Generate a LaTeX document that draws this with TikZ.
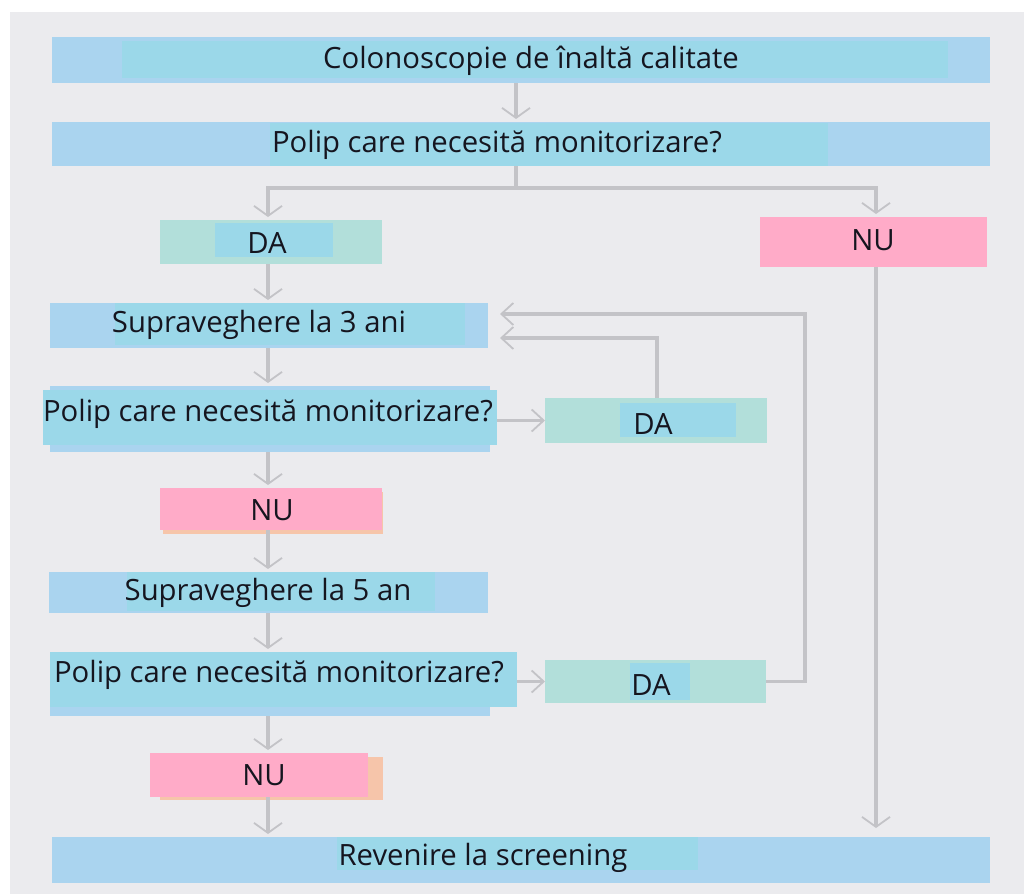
\documentclass[tikz,border=0pt]{standalone}
\usepackage{fontspec}
\setmainfont{Open Sans}
\usetikzlibrary{arrows.meta,calc}
\definecolor{bgg}{HTML}{EBEBEE}
\definecolor{lb}{HTML}{AAD4EF}
\definecolor{cy}{HTML}{9BD8E9}
\definecolor{gr}{HTML}{B2DFDA}
\definecolor{pk}{HTML}{FFABC8}
\definecolor{sh}{HTML}{F6C5AA}
\definecolor{ln}{HTML}{C3C3C7}
\definecolor{tx}{HTML}{15151F}
\begin{document}
\begin{tikzpicture}[x=1pt,y=-1pt,
  frame/.style={draw=none,inner sep=0pt,outer sep=0pt,rectangle},
  lbl/.style={inner sep=0pt,font=\fontsize{29.3}{34}\selectfont,text=tx},
  conn/.style={draw=ln,line width=4pt},
  arr/.style={conn,-{Straight Barb[length=10pt,width=28pt,line width=1.8pt]},shorten >=3pt},
  arrs/.style={draw=ln,line width=3.5pt,-{Straight Barb[length=12pt,width=22pt,line width=1.8pt]}}]
\useasboundingbox (0,0) rectangle (1024,894);
\fill[white] (0,0) rectangle (1024,894);
\fill[bgg] (10,12) rectangle (1024,894);

% ---- box fills ----
% b1
\fill[lb] (52,37) rectangle (990,83);
\fill[cy] (122,41) rectangle (948,78);
% b2
\fill[lb] (52,122) rectangle (990,166);
\fill[cy] (270,123) rectangle (828,166);
% da1
\fill[gr] (160,220) rectangle (382,264);
\fill[cy] (215,223) rectangle (333,257);
% nu1
\fill[pk] (760,217) rectangle (987,267);
% s3
\fill[lb] (50,303) rectangle (488,348);
\fill[cy] (115,303) rectangle (465,345);
% p2
\fill[lb] (50,386) rectangle (490,452);
\fill[cy] (43,390) rectangle (497,445);
% da2
\fill[gr] (545,398) rectangle (767,443);
\fill[cy] (620,403) rectangle (736,437);
% nu2
\fill[sh] (163,492) rectangle (383,534);
\fill[pk] (160,488) rectangle (382,530);
% s5
\fill[lb] (49,572) rectangle (488,613);
\fill[cy] (127,572) rectangle (435,611);
% p3
\fill[lb] (50,652) rectangle (490,716);
\fill[cy] (50,652) rectangle (517,707);
% da3
\fill[gr] (545,660) rectangle (766,703);
\fill[cy] (630,663) rectangle (690,700);
% nu3
\fill[sh] (160,757) rectangle (383,800);
\fill[pk] (150,753) rectangle (368,797);
% b9
\fill[lb] (52,837) rectangle (990,883);
\fill[cy] (337,837) rectangle (698,870);

% ---- frames ----
\node[frame,minimum width=938pt,minimum height=46pt] (b1) at (521,60) {};
\node[frame,minimum width=938pt,minimum height=44pt] (b2) at (521,144) {};
\node[frame,minimum width=222pt,minimum height=44pt] (da1) at (271,242) {};
\node[frame,minimum width=227pt,minimum height=50pt] (nu1) at (873.5,242) {};
\node[frame,minimum width=438pt,minimum height=45pt] (s3) at (269,325.5) {};
\node[frame,minimum width=454pt,minimum height=66pt] (p2) at (270,419) {};
\node[frame,minimum width=222pt,minimum height=45pt] (da2) at (656,420.5) {};
\node[frame,minimum width=222pt,minimum height=42pt] (nu2) at (271,509) {};
\node[frame,minimum width=439pt,minimum height=41pt] (s5) at (268.5,592.5) {};
\node[frame,minimum width=467pt,minimum height=64pt] (p3) at (283.5,684) {};
\node[frame,minimum width=221pt,minimum height=43pt] (da3) at (655.5,681.5) {};
\node[frame,minimum width=218pt,minimum height=44pt] (nu3) at (259,775) {};
\node[frame,minimum width=938pt,minimum height=46pt] (b9) at (521,860) {};

% ---- texts ----
\node[lbl] (t1) at (531,61) {Colonoscopie de înaltă calitate};
\node[lbl] (t2) at (497,145) {Polip care necesită monitorizare?};
\node[lbl] (t3) at (267,243) {DA};
\node[lbl] (t4) at (873,240) {NU};
\node[lbl] (t5) at (259,325) {Supraveghere la 3 ani};
\node[lbl] (t6) at (268,414) {Polip care necesită monitorizare?};
\node[lbl] (t7) at (653,424) {DA};
\node[lbl] (t8) at (272,510) {NU};
\node[lbl] (t9) at (268,593) {Supraveghere la 5 an};
\node[lbl] (t10) at (279,675) {Polip care necesită monitorizare?};
\node[lbl] (t11) at (651,685) {DA};
\node[lbl] (t12) at (264,775) {NU};
\node[lbl] (t13) at (483,858) {Revenire la screening};

% ---- coordinates ----
\coordinate (L) at (268,0);
\coordinate (R) at (876,0);
\coordinate (S) at (516,188);
\coordinate (F1) at (657,338);
\coordinate (F2) at (805,314);

% ---- connectors ----
\draw[arr] (b1.south -| S) -- (b2.north -| S);
\draw[conn] (b2.south -| S) -- (S);
\draw[arr] (S) -| (da1.north -| L);
\draw[arr] (S) -| (nu1.north -| R);
\draw[arr,shorten >=9pt] (nu1.south -| R) -- (b9.north -| R);
\draw[arr] (da1.south -| L) -- (s3.north -| L);
\draw[arr] (s3.south -| L) -- (p2.north -| L);
\draw[arr] (p2.south -| L) -- (nu2.north -| L);
\draw[arr] (nu2.south -| L) -- (s5.north -| L);
\draw[arr] (s5.south -| L) -- (p3.north -| L);
\draw[arr] (p3.south -| L) -- (nu3.north -| L);
\draw[arr] (nu3.south -| L) -- (b9.north -| L);
\draw[arrs] (p2.east |- da2.west) -- (da2.west);
\draw[arrs] (p3.east |- da3.west) -- (da3.west);
\draw[arrs,shorten >=12pt] (da2.north -| F1) -- (F1) -- (s3.east |- F1);
\draw[arrs,shorten >=12pt] (da3.east) -- (da3.east -| F2) -- (F2) -- (s3.east |- F2);
\end{tikzpicture}
\end{document}
